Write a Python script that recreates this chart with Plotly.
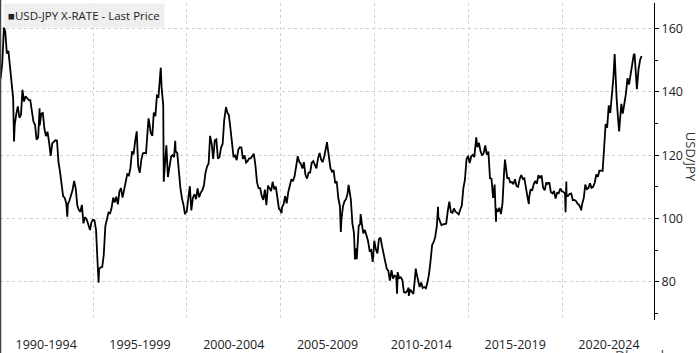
import pandas as pd
import plotly.graph_objects as go

# Monthly USD/JPY closes, Jan 1990 - Mar 2024 (read from chart / approx.)
monthly_vals = [
    144.3, 149.0, 157.7, 158.9, 152.1, 152.9, 147.5, 144.3, 137.9, 129.4, 133.0, 135.4,
    131.8, 132.8, 140.6, 136.9, 138.6, 138.1, 137.4, 137.3, 132.9, 130.6, 129.6, 124.9,
    125.6, 129.4, 133.1, 133.3, 128.4, 126.0, 127.4, 124.0, 119.8, 123.7, 124.4, 124.7,
    124.6, 117.6, 114.9, 111.1, 107.1, 106.5, 104.8, 104.5, 105.7, 107.3, 109.0, 111.9,
    109.5, 104.1, 102.8, 102.1, 104.3, 98.5, 100.4, 99.8, 98.5, 97.0, 98.7, 99.6,
    99.5, 96.4, 86.6, 84.0, 84.6, 84.7, 88.5, 97.6, 99.7, 101.9, 101.6, 103.4,
    106.6, 105.1, 106.9, 104.5, 108.6, 109.6, 106.6, 108.9, 111.4, 114.0, 113.6, 115.9,
    121.2, 120.3, 124.1, 126.9, 116.5, 114.4, 118.5, 120.6, 120.7, 120.6, 127.7, 130.5,
    127.0, 126.1, 133.4, 132.3, 138.8, 138.5, 144.0, 141.3, 135.7, 116.2, 123.1, 113.1,
    116.3, 119.5, 120.0, 119.4, 121.2, 120.7, 114.6, 109.7, 106.3, 104.3, 102.0, 102.1,
    107.2, 110.2, 102.6, 106.6, 107.7, 106.1, 109.5, 106.7, 108.2, 108.9, 110.4, 114.4,
    116.4, 117.4, 126.1, 123.6, 118.8, 124.7, 125.0, 118.9, 119.4, 122.4, 123.6, 131.0,
    134.7, 133.4, 132.7, 128.5, 124.0, 119.4, 119.9, 118.4, 121.7, 122.5, 122.4, 118.8,
    119.9, 117.7, 118.1, 119.0, 119.0, 119.8, 120.4, 116.8, 111.4, 109.6, 109.6, 107.2,
    105.9, 109.1, 104.2, 110.4, 109.5, 108.7, 111.6, 109.2, 110.1, 105.8, 103.1, 102.6,
    103.6, 104.6, 107.1, 104.8, 108.3, 110.8, 112.4, 111.8, 113.3, 116.4, 119.7, 117.9,
    117.2, 115.8, 117.8, 113.8, 112.6, 114.5, 114.5, 117.6, 118.1, 116.9, 115.8, 119.0,
    120.7, 118.6, 117.8, 119.5, 121.7, 123.2, 118.6, 115.8, 114.8, 115.3, 111.2, 111.7,
    106.4, 103.9, 99.7, 103.9, 105.5, 106.2, 108.0, 108.8, 106.0, 98.5, 95.4, 90.6,
    89.9, 97.7, 98.3, 98.6, 95.3, 96.4, 94.7, 93.0, 89.8, 90.1, 86.3, 93.0,
    90.3, 89.0, 93.5, 94.0, 91.3, 88.4, 86.5, 84.2, 83.5, 80.4, 83.7, 81.1,
    82.0, 81.8, 83.1, 81.2, 81.5, 80.6, 76.8, 76.6, 77.1, 78.2, 77.6, 76.9,
    76.2, 81.2, 82.9, 80.1, 78.4, 79.8, 78.1, 78.4, 78.0, 79.8, 82.5, 86.7,
    91.7, 92.6, 94.2, 97.5, 100.5, 99.1, 97.9, 98.2, 98.3, 98.4, 102.4, 105.3,
    102.0, 101.8, 103.2, 102.2, 101.8, 101.3, 102.8, 104.1, 109.7, 112.3, 118.7, 119.8,
    117.5, 119.6, 120.1, 119.4, 124.1, 122.5, 123.9, 121.2, 119.9, 120.6, 123.1, 120.2,
    121.1, 112.7, 112.6, 106.5, 110.7, 103.2, 102.1, 103.4, 101.4, 104.8, 114.5, 117.0,
    112.8, 112.8, 111.4, 111.5, 110.8, 112.4, 110.3, 110.0, 112.5, 113.7, 112.5, 112.7,
    109.2, 106.7, 106.3, 109.3, 108.8, 110.8, 111.9, 111.0, 113.7, 112.9, 113.6, 109.7,
    108.9, 111.4, 110.9, 111.4, 108.3, 107.9, 108.7, 106.3, 108.1, 108.0, 109.5, 108.6,
    108.4, 107.9, 107.5, 107.2, 107.8, 107.9, 105.8, 105.9, 105.5, 104.7, 104.3, 103.3,
    104.7, 106.6, 110.7, 109.3, 109.6, 111.1, 109.7, 110.0, 111.3, 113.9, 113.2, 115.1,
    115.1, 115.0, 121.7, 129.8, 128.7, 135.7, 133.3, 138.9, 144.7, 148.7, 138.0, 131.1,
    130.1, 136.2, 133.1, 136.3, 139.3, 144.3, 142.3, 145.5, 149.4, 151.7, 148.2, 141.0,
    147.0, 150.0, 151.3,
]

# Notable intra-month extremes
extreme_dates = [
    "1990-01-02", "1990-04-02", "1990-10-15", "1992-02-25", "1993-08-17", "1994-11-03",
    "1995-04-19", "1997-04-30", "1997-12-15", "1998-08-11", "1998-10-08", "1999-05-20",
    "1999-11-26", "2002-01-31", "2005-01-17", "2007-06-22", "2008-03-17", "2008-08-15",
    "2008-12-17", "2009-01-21", "2009-04-06", "2011-03-17", "2011-10-31", "2012-03-14",
    "2013-05-22", "2015-06-05", "2016-06-24", "2016-12-15", "2018-03-26", "2020-03-09",
    "2020-03-24", "2021-01-06", "2022-10-21", "2023-01-16", "2023-11-13", "2023-12-28",
]
extreme_vals = [
    143.8, 160.3, 124.3, 134.8, 100.6, 96.4,
    79.8, 127.5, 131.6, 147.6, 111.6, 124.5,
    101.3, 135.2, 101.7, 124.1, 95.8, 110.6,
    87.1, 87.2, 101.4, 76.3, 75.6, 84.2,
    103.7, 125.6, 99.0, 118.6, 104.6, 102.0,
    111.7, 102.6, 151.9, 127.5, 151.9, 140.8,
]

period_labels = ["1990-1994", "1995-1999", "2000-2004", "2005-2009",
                 "2010-2014", "2015-2019", "2020-2024"]
period_mids = ["1992-07-02", "1997-07-02", "2002-07-02", "2007-07-02",
               "2012-07-02", "2017-07-02", "2022-07-02"]
y_ticks = [80, 100, 120, 140, 160]

monthly_dates = pd.date_range("1990-01-01", periods=len(monthly_vals), freq="MS") + pd.Timedelta(days=27)
df = pd.concat([
    pd.DataFrame({"date": monthly_dates, "v": monthly_vals}),
    pd.DataFrame({"date": pd.to_datetime(extreme_dates), "v": extreme_vals}),
]).sort_values("date")

fig = go.Figure()
fig.add_trace(go.Scatter(x=df["date"], y=df["v"], mode="lines",
                         line=dict(color="black", width=1.8), showlegend=False))

font_fam = "Open Sans, Noto Sans, sans-serif"
fig.update_layout(
    width=700, height=353,
    margin=dict(l=0, r=46, t=3, b=33),
    paper_bgcolor="white", plot_bgcolor="white",
    font=dict(family=font_fam, color="#222"),
    xaxis=dict(
        range=["1990-01-15", "2024-11-25"],
        tickmode="array", tickvals=period_mids, ticktext=period_labels,
        ticks="", showgrid=False, showline=False, zeroline=False,
        tickfont=dict(size=12.5, color="#222"), ticklabelstandoff=15,
        minor=dict(showgrid=True, dtick="M60", tick0="1995-01-01",
                   gridcolor="#d0d0d0", griddash="dot", gridwidth=1),
    ),
    yaxis=dict(
        side="right", range=[68, 168], tickvals=y_ticks,
        showline=True, linecolor="black", linewidth=1,
        ticks="outside", ticklen=4, tickcolor="black",
        showgrid=True, gridcolor="#d0d0d0", griddash="dot", gridwidth=1,
        zeroline=False, tickfont=dict(size=12.5, color="#222"),
        minor=dict(dtick=10, tick0=0, ticks="outside", ticklen=3, tickcolor="black", showgrid=False),
    ),
)

# left frame line
fig.add_shape(type="line", xref="paper", yref="paper", x0=0.0008, x1=0.0008, y0=-0.2, y1=1.02,
              line=dict(color="#444", width=1.5))

# legend box
fig.add_annotation(xref="paper", yref="paper", x=0.0046, y=1.0, xanchor="left", yanchor="top",
                   text="■USD-JPY X-RATE - Last Price", showarrow=False,
                   bgcolor="#efefef", borderpad=4, font=dict(size=11.5, color="#222", family=font_fam))

# y-axis title
fig.add_annotation(xref="paper", yref="paper", x=1.057, y=0.514, xanchor="center", yanchor="middle",
                   text="USD/JPY", textangle=90, showarrow=False,
                   font=dict(size=13, color="#333", family=font_fam))

# source mark (cut at window bottom)
fig.add_annotation(xref="paper", yref="paper", x=0.937, y=-0.074, xanchor="left", yanchor="top",
                   text="Bloomberg", showarrow=False,
                   font=dict(size=15, color="#555", family=font_fam))

fig.write_html("out.html")
